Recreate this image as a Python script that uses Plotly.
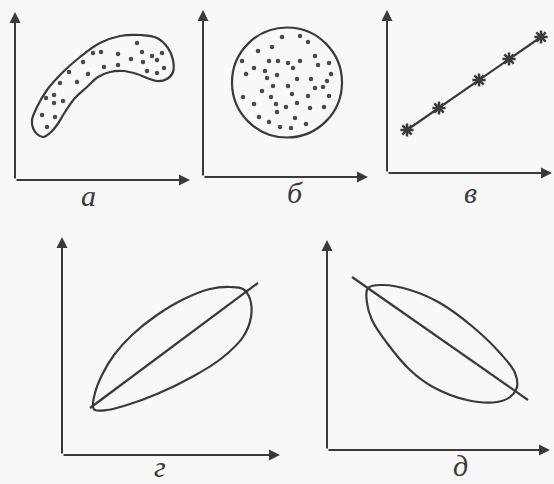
import plotly.graph_objects as go

W, H = 554, 484
INK = "#3a3a3a"

# panel а: curved cloud of points (values relative to the axis origin)
a_dots_x = [122, 127, 137, 147, 142, 128, 149, 142, 132, 116, 103, 103, 89, 86, 78, 68, 73, 54, 62, 45, 31, 39, 39, 48, 27, 40, 32]
a_dots_y = [137, 128, 124, 127, 120, 118, 112, 107, 109, 121, 126, 115, 113, 128, 127, 118, 106, 108, 98, 97, 82, 85, 77, 79, 65, 63, 53]
a_outline_x = [18, 17, 22, 32, 47, 65, 85, 105, 125, 142, 153, 158, 158, 152, 142, 132, 122, 108, 95, 83, 72, 60, 50, 42, 35, 28, 22, 18]
a_outline_y = [52, 60, 73, 90, 107, 123, 137, 144, 145, 142, 132, 120, 108, 101, 99, 102, 106, 109, 108, 103, 93, 82, 68, 55, 47, 43, 46, 52]

# panel б: round cloud, no correlation
b_dots_x = [79, 97, 105, 69, 55, 39, 66, 75, 85, 97, 112, 115, 126, 51, 62, 90, 43, 64, 74, 94, 108, 128, 124,
            70, 85, 120, 112, 59, 89, 40, 68, 105, 126, 51, 73, 83, 94, 107, 121, 74, 56, 66, 92, 103, 77, 88]
b_dots_y = [140, 141, 135, 130, 126, 116, 116, 116, 114, 116, 121, 112, 114, 109, 106, 109, 103, 99, 102, 98, 98, 103, 96,
            91, 91, 90, 89, 86, 83, 80, 80, 81, 81, 73, 73, 70, 74, 69, 70, 65, 60, 55, 59, 53, 50, 49]
b_circle = (84, 94.5, 55)  # centre x, centre y, radius

# panel в: exact linear relation
c_x = [20, 52, 92, 122, 154]
c_y = [43, 65, 93, 114, 136]

# panel г: positive correlation field with regression line
d_outline_x = [31, 33, 40, 52, 70, 95, 122, 148, 168, 181, 188, 189, 181, 160, 130, 95, 65, 45, 33, 31]
d_outline_y = [48, 62, 80, 100, 120, 140, 156, 166, 168, 166, 156, 138, 118, 97, 78, 61, 50, 45, 45, 48]
d_line_x = [28, 196]
d_line_y = [47, 172]

# panel д: negative correlation field with regression line
e_outline_x = [41, 56, 83, 113, 146, 173, 188, 190, 183, 170, 140, 106, 83, 60, 45, 40, 41]
e_outline_y = [162, 165, 160, 147, 123, 97, 77, 63, 53, 48, 50, 63, 80, 107, 130, 147, 162]
e_line_x = [25, 201]
e_line_y = [173, 50]

labels = ["а", "б", "в", "г", "д"]

# axis origin / arrow tips in pixels for each panel: (x0, y0, x_tip, y_tip)
panels = [(15, 180, 190, 12), (203, 177, 368, 10), (387, 173, 552, 10),
          (62, 455, 280, 237), (327, 450, 550, 240)]
# label centres in pixels
label_px = [(88, 195), (295, 193), (470, 193), (160, 466), (460, 465)]

fig = go.Figure()
line = dict(color=INK, width=2.2)
curve = dict(color=INK, width=2.2, shape="spline", smoothing=1.1)
dot = dict(color="#4a4a4a", size=4.5)

# а
fig.add_trace(go.Scatter(x=a_outline_x, y=a_outline_y, mode="lines", line=curve, xaxis="x", yaxis="y"))
fig.add_trace(go.Scatter(x=a_dots_x, y=a_dots_y, mode="markers", marker=dot, xaxis="x", yaxis="y"))
# б
fig.add_trace(go.Scatter(x=b_dots_x, y=b_dots_y, mode="markers", marker=dot, xaxis="x2", yaxis="y2"))
# в
fig.add_trace(go.Scatter(x=c_x, y=c_y, mode="lines+markers", line=line,
                         marker=dict(symbol="asterisk-open", size=11, color=INK, line=dict(color=INK, width=2.5)),
                         xaxis="x3", yaxis="y3"))
# г
fig.add_trace(go.Scatter(x=d_outline_x, y=d_outline_y, mode="lines", line=curve, xaxis="x4", yaxis="y4"))
fig.add_trace(go.Scatter(x=d_line_x, y=d_line_y, mode="lines", line=line, xaxis="x4", yaxis="y4"))
# д
fig.add_trace(go.Scatter(x=e_outline_x, y=e_outline_y, mode="lines", line=curve, xaxis="x5", yaxis="y5"))
fig.add_trace(go.Scatter(x=e_line_x, y=e_line_y, mode="lines", line=line, xaxis="x5", yaxis="y5"))

cx, cy, r = b_circle
fig.add_shape(type="circle", xref="x2", yref="y2", x0=cx - r, x1=cx + r, y0=cy - r, y1=cy + r,
              line=dict(color=INK, width=2.2))

annotations = []
for i, ((x0, y0, xt, yt), lab, (lx, ly)) in enumerate(zip(panels, labels, label_px)):
    s = "" if i == 0 else str(i + 1)
    xr, yr = xt - x0, y0 - yt
    fig.layout["xaxis" + s] = dict(domain=[x0 / W, xt / W], range=[0, xr], visible=False, fixedrange=True)
    fig.layout["yaxis" + s] = dict(domain=[1 - y0 / H, 1 - yt / H], range=[0, yr], visible=False, fixedrange=True)
    xa, ya = "x" + s, "y" + s
    # axes with arrow heads
    for tx, ty in [(xr, 0), (0, yr)]:
        annotations.append(dict(x=tx, y=ty, ax=0, ay=0, xref=xa, yref=ya, axref=xa, ayref=ya,
                                text="", showarrow=True, arrowhead=2, arrowsize=1.1, arrowwidth=2, arrowcolor=INK))
    annotations.append(dict(x=lx / W, y=1 - ly / H, xref="paper", yref="paper", text="<i>" + lab + "</i>",
                            showarrow=False, xanchor="center", yanchor="middle",
                            font=dict(family="Liberation Serif", size=30, color=INK)))

fig.update_layout(width=W, height=H, margin=dict(l=0, r=0, t=0, b=0),
                  paper_bgcolor="#f8f8f8", plot_bgcolor="rgba(0,0,0,0)",
                  showlegend=False, annotations=annotations)

fig.write_html("out.html", config={"displayModeBar": False},
               post_script="document.body.style.margin='0';")
